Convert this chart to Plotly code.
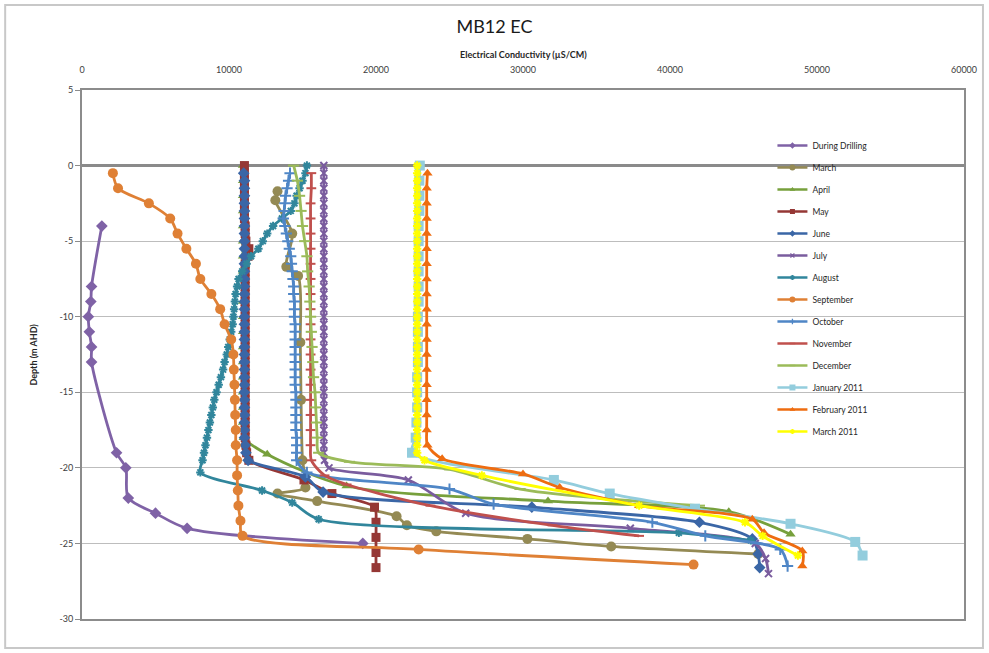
import plotly.graph_objects as go

# ---- Depth (m AHD) and electrical conductivity (uS/cm) per sampling round ----
drill_depth = [-4, -8, -9, -10, -11, -12, -13, -19, -20, -22, -23, -24, -25]
drill_ec = [1350, 650, 600, 430, 500, 650, 650, 2350, 2980, 3150, 5000, 7150, 19100]

mar_depth = [-1.7, -2.3, -4.5, -6.7, -7.3, -11.7, -15.5, -19.5, -21.3, -21.7, -22.2,
             -23.2, -23.8, -24.2, -24.7, -25.2, -25.7]
mar_ec = [13300, 13150, 14300, 13900, 14700, 14850, 14900, 15000, 15200, 13300, 16000,
          21400, 22100, 24100, 30300, 36000, 46000]

apr_depth = [0, -1, -2, -3, -4, -5, -6, -7, -8, -9, -10, -11, -12, -13, -14, -15, -16, -17, -18,
             -19.1, -21.2, -22.2, -22.9, -24.4]
apr_ec = [10950, 10950, 10950, 10950, 10950, 10950, 10950, 10950, 10950, 10950, 10950, 10950,
          10950, 10950, 10950, 10950, 10950, 10950, 11000,
          12600, 18000, 31700, 44000, 48200]

may_depth = [0, -0.5, -1, -1.5, -2, -2.5, -3, -3.5, -4, -4.5, -5, -5.5, -6, -6.5, -7, -7.5,
             -8, -8.5, -9, -9.5, -10, -10.5, -11, -11.5, -12, -12.5, -13, -13.5, -14, -14.5,
             -15, -15.5, -16, -16.5, -17, -17.5, -18, -18.5, -19, -19.5,
             -20.8, -21.7, -22.6, -23.6, -24.6, -25.6, -26.6]
may_ec = [11050, 11050, 11050, 11050, 11050, 11050, 11050, 11050, 11100, 11100, 11150, 11350,
          11300, 11100, 11100, 11100, 11100, 11100, 11100, 11100, 11100, 11100, 11100, 11100,
          11100, 11100, 11100, 11100, 11100, 11100, 11100, 11100, 11100, 11100, 11100, 11100,
          11100, 11150, 11200, 11350,
          15100, 17000, 19900, 20000, 20000, 20000, 20000]

jun_depth = [-0.5, -1, -1.5, -2, -2.5, -3, -3.5, -4, -4.5, -5, -5.5, -6, -6.5, -7, -7.5,
             -8, -8.5, -9, -9.5, -10, -10.5, -11, -11.5, -12, -12.5, -13, -13.5, -14, -14.5,
             -15, -15.5, -16, -16.5, -17, -17.5, -18, -18.5, -19, -19.5,
             -20.6, -21.6, -22.6, -23.6, -24.7, -25.7, -26.6]
jun_ec = [11000, 11050, 11050, 11050, 11050, 11050, 11050, 11050, 11050, 11050, 11050, 11050,
          11050, 11050, 11050, 11050, 11050, 11050, 11050, 11050, 11050, 11050, 11050, 11050,
          11050, 11050, 11050, 11050, 11050, 11050, 11050, 11050, 11050, 11050, 11050, 11050,
          11100, 11150, 11300,
          15200, 16400, 30600, 42000, 45600, 46000, 46100]

jul_depth = [0, -0.5, -1, -1.5, -2, -2.5, -3, -3.5, -4, -4.5, -5, -5.5, -6, -6.5, -7, -7.5,
             -8, -8.5, -9, -9.5, -10, -10.5, -11, -11.5, -12, -12.5, -13, -13.5, -14, -14.5,
             -15, -15.5, -16, -16.5, -17, -17.5, -18, -18.5, -19, -19.5,
             -20, -20.8, -23, -24, -25, -26, -27]
jul_ec = [16450, 16450, 16450, 16450, 16450, 16450, 16450, 16450, 16450, 16450, 16450, 16450,
          16450, 16450, 16450, 16450, 16450, 16450, 16450, 16450, 16450, 16450, 16450, 16450,
          16450, 16450, 16450, 16450, 16450, 16450, 16450, 16450, 16450, 16450, 16450, 16450,
          16450, 16450, 16450, 16500,
          16800, 22200, 26100, 37300, 45800, 46500, 46700]

aug_depth = [0, -0.5, -1, -1.5, -2, -2.5, -3, -3.5, -4, -4.5, -5, -5.5, -6, -6.5, -7, -7.5,
             -8, -8.5, -9, -9.5, -10, -10.5, -11, -11.5, -12, -12.5, -13, -13.5, -14, -14.5,
             -15, -15.5, -16, -16.5, -17, -17.5, -18, -18.5, -19, -19.5,
             -20.3, -21.5, -22.3, -23.4, -24.3, -24.8]
aug_ec = [15300, 15200, 15000, 14800, 14600, 14450, 14200, 13600, 13000, 12600, 12300, 12000,
          11500, 11200, 10900, 10650, 10550, 10450, 10400, 10350, 10300, 10250, 10150, 10050,
          9950, 9850, 9700, 9600, 9450, 9300, 9150, 9000, 8900, 8800, 8700, 8600, 8500, 8400,
          8300, 8200,
          8050, 12250, 14300, 16100, 40600, 45500]

sep_depth = [-0.5, -1.5, -2.5, -3.5, -4.5, -5.5, -6.5, -7.5, -8.5, -9.5, -10.5, -11.5, -12.5,
             -13.5, -14.5, -15.5, -16.5, -17.5, -18.5, -19.5, -20.5, -21.5, -22.5, -23.5, -24.5,
             -25.4, -26.4]
sep_ec = [2100, 2450, 4550, 6000, 6500, 7100, 7750, 8050, 8800, 9400, 9700, 10150, 10300,
          10330, 10370, 10400, 10420, 10460, 10460, 10550, 10550, 10600, 10640, 10780, 10920,
          22900, 41600]

oct_depth = [-0.5, -1, -1.5, -2, -2.5, -3, -3.5, -4, -4.5, -5, -5.5, -6, -6.5, -7, -7.5,
             -8, -8.5, -9, -9.5, -10, -10.5, -11, -11.5, -12, -12.5, -13, -13.5, -14, -14.5,
             -15, -15.5, -16, -16.5, -17, -17.5, -18, -18.5, -19, -19.5,
             -20.3, -21.4, -22.4, -23.6, -24.5, -25.4, -26.5]
oct_ec = [14150, 14050, 13950, 13850, 13800, 13750, 13700, 13800, 13900, 14000, 14100, 14200,
          14250, 14300, 14350, 14400, 14400, 14450, 14450, 14450, 14500, 14500, 14500, 14500,
          14500, 14500, 14500, 14500, 14500, 14550, 14550, 14550, 14550, 14550, 14550, 14600,
          14600, 14600, 14600,
          15300, 25000, 28000, 38800, 42400, 47500, 48000]

nov_depth = [-0.5, -1.5, -2.5, -3.5, -4.5, -5.5, -6.5, -7.5, -8.5, -9.5, -10.5, -11.5, -12.5,
             -13.5, -14.5, -15.5, -16.5, -17.5, -18.5, -19.5,
             -20.5, -21.1, -22.5, -23.8, -24.5]
nov_ec = [15600, 15600, 15550, 15550, 15550, 15550, 15550, 15550, 15550, 15550, 15550, 15550,
          15550, 15550, 15550, 15550, 15550, 15550, 15550, 15600,
          16500, 18000, 23700, 32000, 37900]

dec_depth = [0, -1, -2, -3, -4, -5, -6, -7, -8, -9, -10, -11, -12, -13, -14, -15, -16, -17,
             -18, -19, -19.6, -20.1, -21.4, -22.5]
dec_ec = [14400, 14650, 14800, 14900, 15000, 15150, 15300, 15350, 15450, 15500, 15550, 15600,
          15650, 15700, 15750, 15850, 15900, 15950, 16000, 16100,
          18200, 25000, 29800, 42000]

jan11_depth = [0, -1, -2, -3, -4, -5, -6, -7, -8, -9, -10, -11, -12, -13, -14, -15, -16, -17,
               -18, -19, -20.8, -21.7, -22.7, -23.7, -24.9, -25.8]
jan11_ec = [22980, 22950, 22950, 22950, 22900, 22900, 22900, 22900, 22900, 22900, 22850, 22850,
            22850, 22850, 22800, 22800, 22800, 22750, 22700, 22450,
            32100, 35900, 41700, 48200, 52600, 53100]

feb11_depth = [-0.5, -1.5, -2.5, -3.5, -4.5, -5.5, -6.5, -7.5, -8.5, -9.5, -10.5, -11.5, -12.5,
               -13.5, -14.5, -15.5, -16.5, -17.5, -18.5,
               -19.4, -20.4, -21.3, -22.5, -23.4, -24.3, -25.5, -26.5]
feb11_ec = [23500, 23450, 23450, 23450, 23450, 23450, 23450, 23450, 23450, 23450, 23450, 23450,
            23450, 23450, 23450, 23450, 23450, 23450, 23500,
            24500, 30000, 32500, 37900, 45600, 46400, 49000, 49000]

mar11_depth = [0, -0.5, -1, -1.5, -2, -2.5, -3, -3.5, -4, -4.5, -5, -5.5, -6, -6.5, -7, -7.5,
               -8, -8.5, -9, -9.5, -10, -10.5, -11, -11.5, -12, -12.5, -13, -13.5, -14, -14.5,
               -15, -15.5, -16, -16.5, -17, -17.5, -18, -18.5, -19,
               -19.5, -20.5, -22.5, -23.6, -24.5, -25.8]
mar11_ec = [22800, 22800, 22800, 22800, 22800, 22800, 22800, 22800, 22800, 22800, 22800, 22800,
            22800, 22800, 22800, 22800, 22800, 22800, 22800, 22800, 22800, 22800, 22800, 22800,
            22800, 22800, 22800, 22800, 22800, 22800, 22800, 22800, 22800, 22800, 22800, 22800,
            22800, 22800, 22800,
            23300, 27200, 37900, 45100, 46300, 48700]

x_ticks = [0, 10000, 20000, 30000, 40000, 50000, 60000]
x_labels = ["0", "10000", "20000", "30000", "40000", "50000", "60000"]
y_ticks = [5, 0, -5, -10, -15, -20, -25, -30]
y_labels = ["5", "0", "-5", "-10", "-15", "-20", "-25", "-30"]

series = [
    ("During Drilling", drill_depth, drill_ec, "#7F62A6", "diamond", 9),
    ("March", mar_depth, mar_ec, "#948A54", "circle", 10),
    ("April", apr_depth, apr_ec, "#77A03C", "triangle-up", 9),
    ("May", may_depth, may_ec, "#953735", "square", 9),
    ("June", jun_depth, jun_ec, "#3A66A6", "diamond", 9),
    ("July", jul_depth, jul_ec, "#7A5C9E", "x-thin", 7),
    ("August", aug_depth, aug_ec, "#31869C", "asterisk", 7),
    ("September", sep_depth, sep_ec, "#DF8035", "circle", 10),
    ("October", oct_depth, oct_ec, "#4F86C6", "cross-thin", 8),
    ("November", nov_depth, nov_ec, "#C0504D", "line-ew", 7),
    ("December", dec_depth, dec_ec, "#9BBB59", "line-ew", 8),
    ("January 2011", jan11_depth, jan11_ec, "#93CDDD", "square", 10),
    ("February 2011", feb11_depth, feb11_ec, "#EE6C10", "triangle-up", 9),
    ("March 2011", mar11_depth, mar11_ec, "#FFFF00", "asterisk", 7),
]

open_symbols = {"x-thin", "asterisk", "cross-thin", "line-ew"}


def make_marker(color, symbol, size, lw):
    if symbol in open_symbols:
        return dict(symbol=symbol, size=size, color=color, line=dict(color=color, width=lw))
    return dict(symbol=symbol, size=size, color=color, line=dict(width=0))


fig = go.Figure()
for name, depth, ec, color, symbol, size in series:
    fig.add_trace(go.Scatter(
        x=ec, y=depth, name=name, mode="lines+markers",
        line=dict(color=color, width=2.8, shape="spline", smoothing=0.8),
        marker=make_marker(color, symbol, size, 2), legendgroup=name, showlegend=False,
    ))

# legend keys with smaller markers than the plotted points
for name, depth, ec, color, symbol, size in series:
    fig.add_trace(go.Scatter(
        x=[None], y=[None], name=name, mode="lines+markers",
        line=dict(color=color, width=2.5),
        marker=make_marker(color, symbol, max(size - 4, 4), 1.3),
        legendgroup=name, showlegend=True,
    ))

FONT = "Lato, 'Open Sans', sans-serif"

fig.update_layout(
    width=989, height=653,
    margin=dict(l=82, r=23, t=90, b=34),
    paper_bgcolor="white", plot_bgcolor="white",
    font=dict(family=FONT, color="#404040", size=9),
    title=dict(text="MB12 EC", x=0.5, xanchor="center", y=1 - 27 / 653, yanchor="middle",
               font=dict(family=FONT, size=18, color="#1a1a1a")),
    showlegend=True,
    legend=dict(x=(774 - 82) / 884, xanchor="left", y=(619 - 131) / 529, yanchor="top",
                bgcolor="rgba(0,0,0,0)", borderwidth=0, itemwidth=30,
                tracegroupgap=3, traceorder="grouped", itemsizing="trace",
                font=dict(family=FONT, size=8.5, color="#262626")),
    xaxis=dict(range=[0, 60000], side="top", tickvals=x_ticks, ticktext=x_labels,
               showgrid=False, zeroline=False, ticks="", ticklabelstandoff=11,
               showline=True, linecolor="#8C8C8C", linewidth=2, mirror=True,
               tickfont=dict(size=9, color="#404040")),
    yaxis=dict(range=[-30, 5], tickvals=y_ticks, ticktext=y_labels,
               showgrid=True, gridcolor="#BDBDBD", gridwidth=1.2,
               zeroline=True, zerolinecolor="#8A8A8A", zerolinewidth=3,
               ticks="outside", ticklen=5, tickcolor="#8C8C8C",
               showline=True, linecolor="#8C8C8C", linewidth=2, mirror=True,
               tickfont=dict(size=9, color="#404040")),
)

# axis titles
fig.add_annotation(text="<b>Electrical Conductivity (µS/CM)</b>", xref="paper", yref="paper",
                   x=0.5, y=(619 - 54) / 529, xanchor="center", yanchor="middle",
                   showarrow=False, font=dict(family=FONT, size=9, color="#262626"))
fig.add_annotation(text="<b>Depth (m AHD)</b>", xref="paper", yref="paper",
                   x=(33 - 82) / 884, y=0.5, xanchor="center", yanchor="middle", textangle=-90,
                   showarrow=False, font=dict(family=FONT, size=9, color="#262626"))

# chart frame
fig.add_shape(type="rect", xref="paper", yref="paper",
              x0=(5 - 82) / 884, x1=(985 - 82) / 884,
              y0=(619 - 648) / 529, y1=(619 - 5) / 529,
              line=dict(color="#C8C8C8", width=2), fillcolor="rgba(0,0,0,0)", layer="below")

fig.write_html("out.html")
